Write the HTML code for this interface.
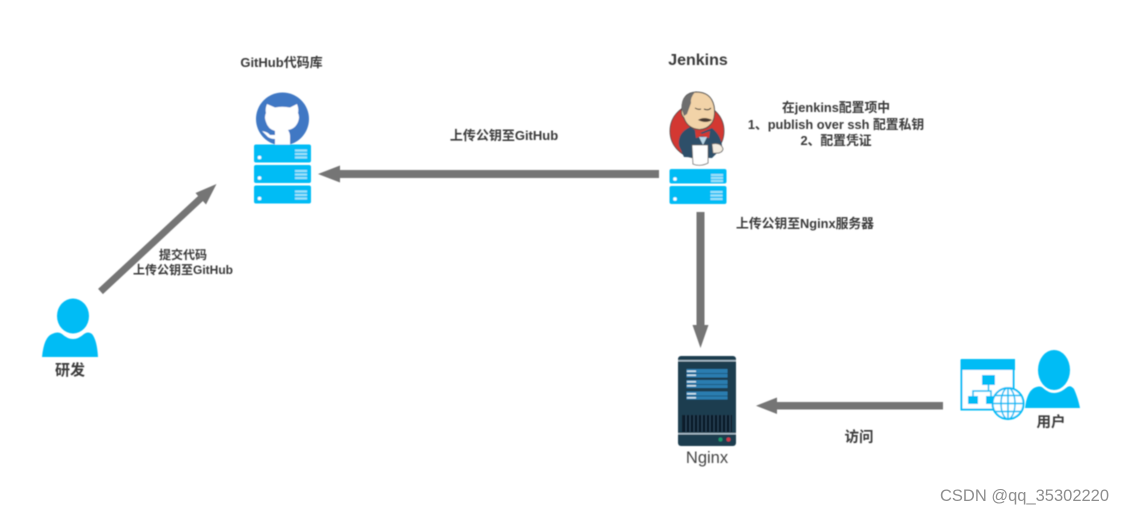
<!DOCTYPE html>
<html>
<head>
<meta charset="utf-8">
<style>
html,body{margin:0;padding:0;background:#fff;width:1124px;height:513px;overflow:hidden}
svg{display:block}
text{font-family:"Liberation Sans","Noto Sans CJK SC",sans-serif}
.t{font-weight:700;fill:#3a3a3a;font-size:12.800px;text-anchor:middle}
</style>
</head>
<body>
<svg width="1124" height="513" viewBox="0 0 1124 513" xmlns="http://www.w3.org/2000/svg">
<defs>
<filter id="b" x="-5%" y="-5%" width="110%" height="110%"><feGaussianBlur stdDeviation="0.6"/></filter>
<g id="srv">
<rect x="0" y="0" width="57" height="18" rx="2" fill="#00bcf5"/>
<circle cx="5.500" cy="13" r="1.800" fill="#fff"/>
<rect x="41" y="5" width="12" height="2" fill="#9be2f9"/>
<rect x="41" y="8.500" width="12" height="2" fill="#9be2f9"/>
<rect x="41" y="12" width="12" height="2" fill="#9be2f9"/>
</g>
</defs>
<rect width="1124" height="513" fill="#fff"/>
<g filter="url(#b)">
<!-- GitHub -->
<circle cx="282.500" cy="119" r="26.500" fill="#3f78c4"/>
<path d="M267 104 L275 107.500 Q282 106 290 107.500 L297 104 Q299 109 298 113 Q300 117 298 122 Q295 129 288 130 Q290 133 290 136 L290 146 L275 146 L275 139 Q269 139 266 135 L262 131 Q268 132 270 135 L275 135 L275 131 Q268 129 266 122 Q264 117 266 113 Q265 109 267 104 Z" fill="#fff"/>
<use href="#srv" x="254" y="144.500"/>
<use href="#srv" x="254" y="165"/>
<use href="#srv" x="254" y="185.500"/>
<!-- Jenkins -->
<circle cx="697" cy="131" r="27" fill="#d33833"/>
<circle cx="697" cy="131" r="27" fill="none" stroke="#444" stroke-width=".8"/>
<path d="M679 146 Q677 133 690 127 L700 133 L712 128 Q722 136 722 148 L712 158 L684 157Z" fill="#2f5069"/>
<path d="M682 108 Q682 93 696 92 Q711 92 714 106 Q716 118 711 124 Q705 131 696 129 Q687 127 684 118 Q680 114 682 108Z" fill="#f2d3a8" stroke="#4a4a4a" stroke-width="1"/>
<path d="M682 110 Q680 95 695 92 Q690 98 691 103 L687 114 L684 116Z" fill="#6e6e6e"/>
<path d="M695 108 Q698 110 701 109" fill="none" stroke="#333" stroke-width="1"/>
<path d="M704 109 Q708 111 711 108" fill="none" stroke="#333" stroke-width="1"/>
<path d="M698 120 Q704 116 712 120 Q706 124 698 120Z" fill="#4a3a30"/>
<path d="M695 130 L702 134 L710 131 L709 138 L702 136 L696 138Z" fill="#d33833"/>
<path d="M699 137 L707 137 L703 145Z" fill="#b9d6e6"/>
<path d="M692 145 L708 145 L708 163 Q700 167 693 164Z" fill="#fff" stroke="#666" stroke-width=".8"/>
<path d="M712 144 Q721 142 723 149 Q722 154 713 153Z" fill="#f4ece0" stroke="#666" stroke-width=".8"/>
<rect x="669.500" y="169" width="57" height="14.500" rx="2" fill="#00bcf5"/>
<circle cx="675" cy="179" r="1.800" fill="#fff"/>
<rect x="711" y="174" width="12" height="2" fill="#9be2f9"/>
<rect x="711" y="177" width="12" height="2" fill="#9be2f9"/>
<rect x="711" y="180" width="12" height="2" fill="#9be2f9"/>
<use href="#srv" x="669.500" y="186"/>
<!-- Nginx server -->
<rect x="678" y="356" width="58" height="90" rx="3" fill="#1f3d50"/>
<rect x="678" y="360" width="58" height="1.500" fill="#a9bcc8"/>
<rect x="678" y="433" width="58" height="1.500" fill="#a9bcc8"/>
<rect x="686.500" y="369" width="41" height="8.500" fill="#2c7db0"/>
<rect x="686.500" y="380" width="41" height="8" fill="#2c7db0"/>
<rect x="686.500" y="391.500" width="41" height="8" fill="#2c7db0"/>
<rect x="687" y="370.500" width="9" height="1.500" fill="#cfe3ee"/>
<rect x="687" y="374.500" width="9" height="1.500" fill="#cfe3ee"/>
<rect x="687" y="381" width="9" height="1.500" fill="#cfe3ee"/>
<rect x="687" y="385" width="9" height="1.500" fill="#cfe3ee"/>
<rect x="687" y="393" width="9" height="1.500" fill="#cfe3ee"/>
<rect x="687" y="397" width="9" height="1.500" fill="#cfe3ee"/>
<rect x="686.500" y="373" width="41" height="1" fill="#1f5a80"/>
<rect x="686.500" y="384" width="41" height="1" fill="#1f5a80"/>
<rect x="686.500" y="395.500" width="41" height="1" fill="#1f5a80"/>
<rect x="682" y="415" width="50" height="17" fill="#0d1f2b"/>
<g stroke="#2b4a5e" stroke-width="1">
<path d="M686 415v17M690 415v17M694 415v17M698 415v17M702 415v17M706 415v17M710 415v17M714 415v17M718 415v17M722 415v17M726 415v17M730 415v17"/>
</g>
<circle cx="720.500" cy="439.500" r="2" fill="#1f9a6a"/>
<circle cx="728.500" cy="439.500" r="2" fill="#d13a4a"/>
<!-- arrows -->
<g fill="#757575">
<path d="M659 170 L340 170 L340 165.500 L318 174 L340 182.500 L340 178 L659 178Z"/>
<path d="M696.500 212 L704.500 212 L704.500 325 L708.500 325 L700.500 348 L692.500 325 L696.500 325Z"/>
<path d="M943 402 L777 402 L777 397.500 L756 405.700 L777 414 L777 409.500 L943 409.500Z"/>
<path d="M102.900 294.100 L98.100 288.900 L198.100 196 L195.500 193 L216.500 184 L206 204.500 L202.900 201Z"/>
</g>
<!-- dev user -->
<ellipse cx="73" cy="316" rx="16" ry="17.500" fill="#00bcf5"/>
<path d="M42 357 Q44 337 52 334 Q58 331 62 334 Q73 344 84 334 Q88 331 92 334 Q97 340 98 357Z" fill="#00bcf5"/>
<!-- user2 -->
<ellipse cx="1054" cy="370" rx="16" ry="20" fill="#00bcf5"/>
<path d="M1025 408 Q1027 392 1034 388 Q1040 385 1043 388 Q1054 398 1066 388 Q1070 384 1074 389 Q1078 398 1080 408Z" fill="#00bcf5"/>
<!-- network icon -->
<rect x="961.500" y="360.500" width="52" height="49" fill="#fff" stroke="#00bcf5" stroke-width="2"/>
<rect x="961" y="359" width="54" height="11" fill="#00bcf5"/>
<rect x="982" y="375" width="13" height="10" fill="#00bcf5"/>
<rect x="968" y="396" width="10" height="8" fill="#00bcf5"/>
<rect x="986" y="396" width="10" height="8" fill="#00bcf5"/>
<path d="M988.500 385V391M973 396V391H991V396" fill="none" stroke="#00bcf5" stroke-width="1.500"/>
<circle cx="1008" cy="403.500" r="15.500" fill="#fff" stroke="#00bcf5" stroke-width="2"/>
<ellipse cx="1008" cy="403.500" rx="7" ry="15.500" fill="none" stroke="#00bcf5" stroke-width="1.500"/>
<path d="M1008 388V419M993 403.500H1023M995 395.500H1021M995 411.500H1021" stroke="#00bcf5" stroke-width="1.500" fill="none"/>
<!-- labels -->
<text class="t" x="281.500" y="67" style="font-size:13px">GitHub代码库</text>
<text class="t" x="698" y="65" style="font-size:16px">Jenkins</text>
<text class="t" x="836" y="112">在jenkins配置项中</text>
<text class="t" x="836" y="129">1、publish over ssh 配置私钥</text>
<text class="t" x="836" y="145">2、配置凭证</text>
<text class="t" x="504" y="140" style="font-size:13px">上传公钥至GitHub</text>
<text class="t" x="805" y="228">上传公钥至Nginx服务器</text>
<text class="t" x="183" y="259" style="font-size:12px">提交代码</text>
<text class="t" x="183" y="274" style="font-size:12px">上传公钥至GitHub</text>
<text class="t" x="70" y="375" style="font-size:15px">研发</text>
<text class="t" x="1051" y="427" style="font-size:14.500px">用户</text>
<text class="t" x="859" y="442" style="font-size:14.500px">访问</text>
<text x="707" y="463" text-anchor="middle" style="font-size:16.500px" fill="#444">Nginx</text>
</g>
<text x="940" y="501" style="font-size:16.500px" fill="#8e8e8e">CSDN @qq_35302220</text>
</svg>
</body>
</html>
